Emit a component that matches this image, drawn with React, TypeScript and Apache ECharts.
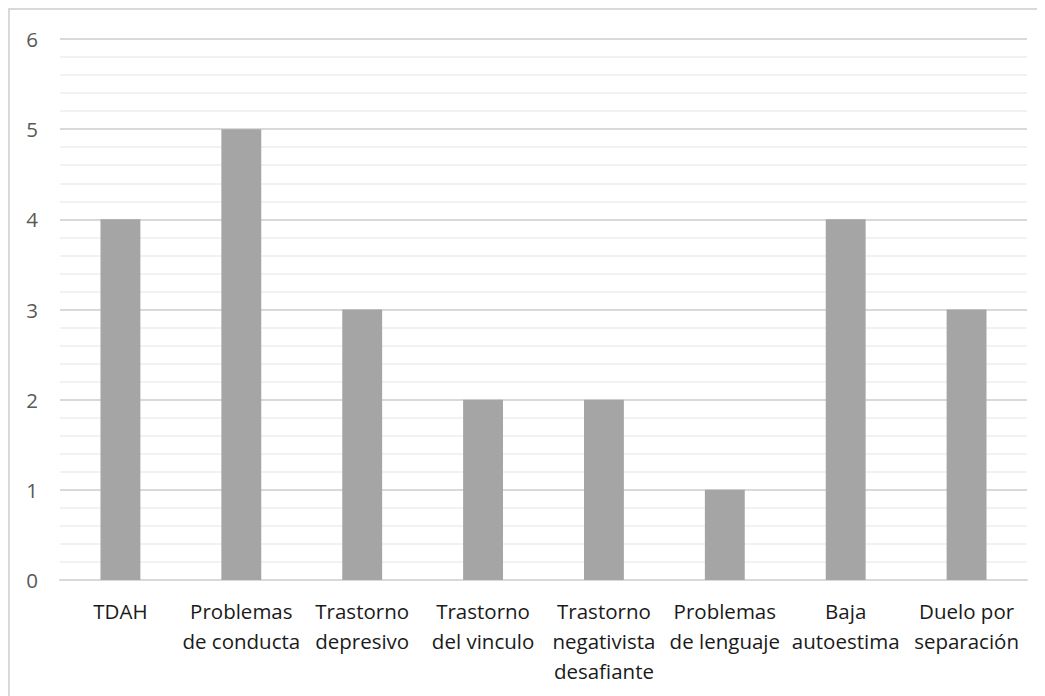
import React, { useEffect, useRef } from "react";
import * as echarts from "echarts";

const categories = [
  "TDAH",
  "Problemas\nde conducta",
  "Trastorno\ndepresivo",
  "Trastorno\ndel vinculo",
  "Trastorno\nnegativista\ndesafiante",
  "Problemas\nde lenguaje",
  "Baja\nautoestima",
  "Duelo por\nseparación",
];
const values = [4, 5, 3, 2, 2, 1, 4, 3];
const yMin = 0;
const yMax = 6;
const yInterval = 1;

export default function App() {
  const ref = useRef<HTMLDivElement>(null);
  useEffect(() => {
    if (!ref.current) return;
    const chart = echarts.init(ref.current, undefined, { renderer: "svg" });
    chart.setOption({
      animation: false,
      grid: { left: 50, right: 18, top: 29, bottom: 116, containLabel: false },
      xAxis: {
        type: "category",
        data: categories,
        axisLine: { show: true, lineStyle: { color: "#d9d9d9", width: 2 } },
        axisTick: { show: false },
        axisLabel: {
          interval: 0,
          margin: 16,
          color: "#1a1a1a",
          fontFamily: "Open Sans",
          fontSize: 20.5,
          lineHeight: 30,
          align: "center",
          verticalAlign: "top",
        },
        splitLine: { show: false },
      },
      yAxis: {
        type: "value",
        min: yMin,
        max: yMax,
        interval: yInterval,
        axisLine: { show: false },
        axisTick: { show: false },
        axisLabel: {
          margin: 22,
          color: "#595959",
          fontFamily: "Open Sans",
          fontSize: 20.5,
        },
        splitLine: { show: true, lineStyle: { color: "#d9d9d9", width: 2 } },
        minorTick: { show: false, splitNumber: 5 },
        minorSplitLine: { show: true, lineStyle: { color: "#f2f2f2", width: 2 } },
      },
      series: [
        {
          type: "bar",
          data: values,
          barWidth: "33%",
          itemStyle: { color: "#a5a5a5" },
        },
      ],
    });
    return () => chart.dispose();
  }, []);
  return (
    <div
      style={{
        width: 1037,
        height: 688,
        borderTop: "2px solid #d9d9d9",
        borderLeft: "2px solid #d9d9d9",
        boxSizing: "border-box",
        position: "relative",
      }}
    >
      <div ref={ref} style={{ width: 1035, height: 686 }} />
    </div>
  );
}
